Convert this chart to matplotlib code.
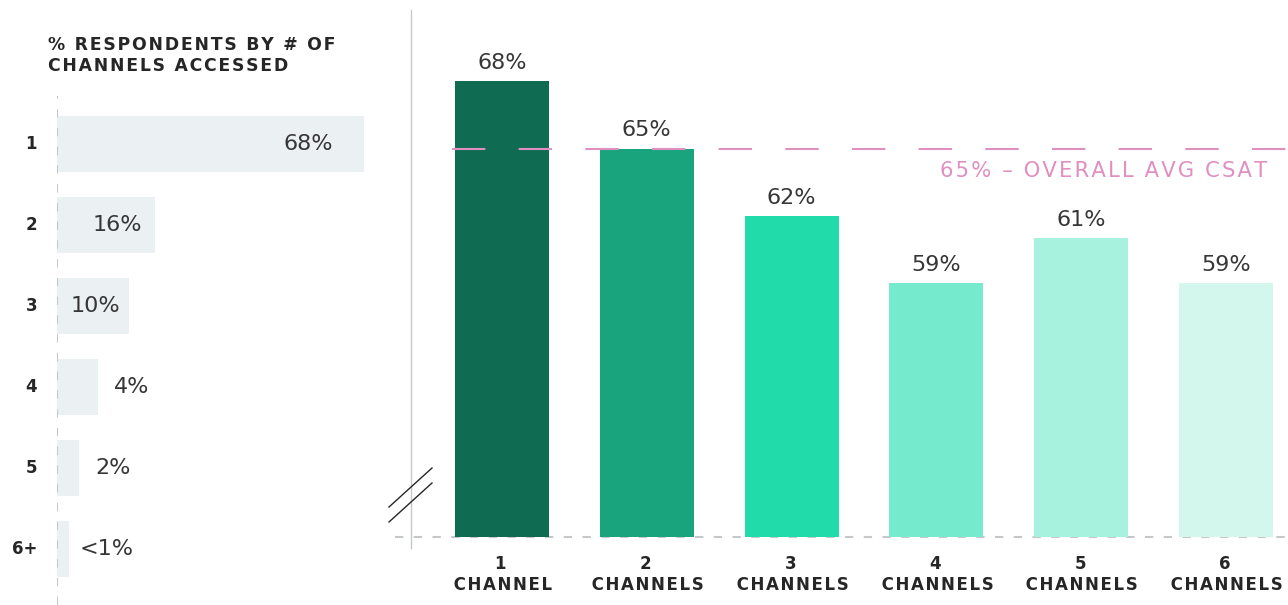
import matplotlib
import matplotlib.pyplot as plt
from matplotlib.lines import Line2D

matplotlib.use("Agg")

# left panel: share of respondents by number of channels accessed
channel_counts = ["1", "2", "3", "4", "5", "6+"]
share_labels = ["68%", "16%", "10%", "4%", "2%", "<1%"]
share_bars = [68, 21.7, 16.0, 9.1, 4.9, 2.7]  # bar lengths as drawn

# right panel: CSAT by number of channels
csat_labels = ["1\nCHANNEL", "2\nCHANNELS", "3\nCHANNELS",
               "4\nCHANNELS", "5\nCHANNELS", "6\nCHANNELS"]
csat_values = [68, 65, 62, 59, 61, 59]
avg_csat = 65

bar_colors = ["#0f6b51", "#19a47e", "#21dcaa", "#76eacc", "#a7f2de", "#d3f7ec"]
text_dark = "#262626"
num_color = "#363636"
grid_gray = "#c4c8cb"
pink = "#e08fc1"

W, H = 1288, 605


def px(x, y):
    # pixel position -> figure fraction
    return x / W, 1 - y / H


def track(s, sp="\u200a"):
    # poor man's letter spacing
    return sp.join(s)


fig = plt.figure(figsize=(W / 100, H / 100), dpi=100)

# ---- left panel ----
ax1 = fig.add_axes([57 / W, 0, 343 / W, 509 / H])
ax1.barh(range(len(share_bars)), share_bars, height=0.69, color="#ebf0f3")
ax1.set_xlim(0, 76)
ax1.set_ylim(5.69, -0.59)
ax1.axvline(0, color=grid_gray, lw=1.5, ls=(0, (4, 5)))
ax1.axis("off")

# label placement: first one inside bar end, others just after the start
label_x = [61.2, 7.8, 2.9, 12.6, 8.4, 5.1]
label_ha = ["right", "left", "left", "left", "left", "left"]
for i, lab in enumerate(share_labels):
    ax1.text(label_x[i], i, lab, ha=label_ha[i], va="center", fontsize=16,
             color=num_color)
    ax1.text(-4.4, i, channel_counts[i], ha="right", va="center", fontsize=12,
             fontweight="bold", color=text_dark, clip_on=False)

title = track("% RESPONDENTS BY # OF") + "\n" + track("CHANNELS ACCESSED")
fig.text(*px(48, 36), title, ha="left", va="top", fontsize=12.4,
         fontweight="bold", color=text_dark, linespacing=1.2)

# ---- right panel ----
ax2 = fig.add_axes([411 / W, 68 / H, 877 / W, 527 / H])
x = range(len(csat_values))
ax2.bar(x, csat_values, width=0.65, color=bar_colors, zorder=3)
ax2.set_xlim(-0.628, 5.428)
ax2.set_ylim(47.7, 71.17)

for i, v in enumerate(csat_values):
    ax2.annotate(f"{v}%", (i, v), xytext=(0, 6), textcoords="offset points",
                 ha="center", va="bottom", fontsize=16, color=num_color)

ax2.axhline(avg_csat, xmin=0.047, xmax=1, color=pink, lw=1.5,
            ls=(0, (16, 16)), zorder=4)
ax2.annotate(track(f"{avg_csat}% \u2013 OVERALL AVG CSAT"), (0.976, avg_csat),
             xycoords=("axes fraction", "data"), xytext=(0, -9),
             textcoords="offset points", ha="right", va="top", fontsize=15.2,
             color=pink)

ax2.set_xticks(list(x), [track(s) for s in csat_labels])
ax2.tick_params(axis="x", length=0, pad=13, labelsize=12, labelcolor=text_dark)
for t in ax2.get_xticklabels():
    t.set_fontweight("bold")
    t.set_linespacing(1.2)
ax2.set_yticks([])
for s in ax2.spines.values():
    s.set_visible(False)

# baseline (dashed) and left axis line
ax2.add_line(Line2D([-0.018, 1], [0, 0], transform=ax2.transAxes, color=grid_gray,
                    lw=1.5, ls=(0, (4, 5)), clip_on=False, zorder=1))
ax2.add_line(Line2D([0, 0], [-0.021, 1.0], transform=ax2.transAxes, color=grid_gray,
                    lw=1.0, clip_on=False))

# axis break marks
for y0 in (507, 522):
    x0, ya = px(389, y0)
    x1, yb = px(432, y0 - 39)
    fig.add_artist(Line2D([x0, x1], [ya, yb], color=text_dark, lw=1.0))

fig.savefig("out.png", dpi=100)
